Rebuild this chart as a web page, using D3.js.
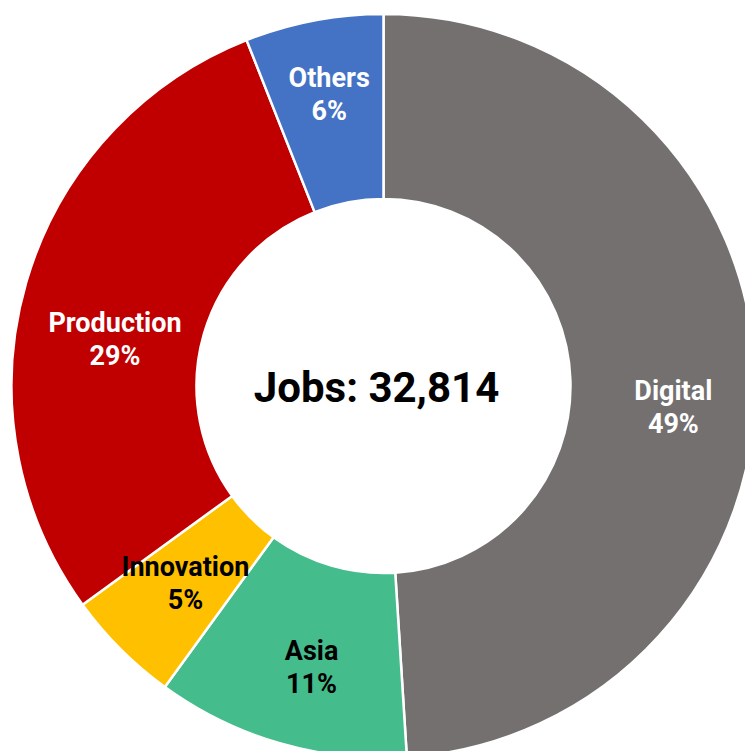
<!DOCTYPE html>
<html>
<head>
<meta charset="utf-8">
<script src="https://cdn.jsdelivr.net/npm/d3@7"></script>
<style>
  html, body { margin: 0; padding: 0; background: #fff; }
  svg { display: block; }
</style>
</head>
<body>
<svg id="chart" width="745" height="751"></svg>
<script>
// Job distribution by division, in percent of total jobs
const categories = ["Digital", "Asia", "Innovation", "Production", "Others"];
const shares = [49, 11, 5, 29, 6];
const totalJobs = 32814;

const sliceColors = ["#747070", "#45BC8C", "#FFC000", "#C00000", "#4472C4"];
const labelColors = ["#ffffff", "#000000", "#000000", "#ffffff", "#ffffff"];

const width = 745, height = 751;
const cx = 383.5, cy = 386;
const outerR = 372, innerR = 187, labelR = 290;

// Per-label fine placement inside the ring, [dx, dy] from the centroid
const labelShift = {
  Digital: [0, 31],
  Asia: [9, 3],
  Innovation: [7, -8],
  Production: [10, 34],
  Others: [0, -7]
};

const svg = d3.select("#chart");
const g = svg.append("g").attr("transform", `translate(${cx},${cy})`);

const data = categories.map((c, i) => ({ name: c, value: shares[i], color: sliceColors[i], text: labelColors[i] }));

const pie = d3.pie().sort(null).value(d => d.value);
const arc = d3.arc().innerRadius(innerR).outerRadius(outerR);
const labelArc = d3.arc().innerRadius(labelR).outerRadius(labelR);

const arcs = pie(data);

g.selectAll("path.slice")
  .data(arcs)
  .join("path")
  .attr("class", "slice")
  .attr("d", arc)
  .attr("fill", d => d.data.color)
  .attr("stroke", "#ffffff")
  .attr("stroke-width", 2.5)
  .attr("stroke-linejoin", "round");

const labels = g.selectAll("g.label")
  .data(arcs)
  .join("g")
  .attr("class", "label")
  .attr("transform", d => {
    const [x, y] = labelArc.centroid(d);
    const [dx, dy] = labelShift[d.data.name] || [0, 0];
    return `translate(${x + dx},${y + dy})`;
  })
  .attr("font-family", "Roboto, 'Noto Sans', sans-serif")
  .attr("font-weight", "bold")
  .attr("font-size", 27)
  .attr("text-anchor", "middle")
  .attr("fill", d => d.data.text);

labels.append("text").attr("y", -7.5).text(d => d.data.name);
labels.append("text").attr("y", 25.5).text(d => d3.format("d")(d.data.value) + "%");

// Total in the hole
g.append("text")
  .attr("x", -7)
  .attr("y", 16)
  .attr("text-anchor", "middle")
  .attr("font-family", "Roboto, 'Noto Sans', sans-serif")
  .attr("font-weight", "bold")
  .attr("font-size", 42)
  .attr("fill", "#000")
  .text("Jobs: " + d3.format(",")(totalJobs));
</script>
</body>
</html>
